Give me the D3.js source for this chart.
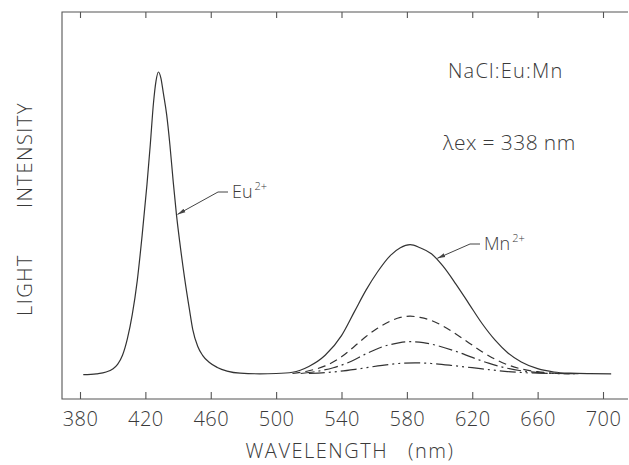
<!DOCTYPE html>
<html>
<head>
<meta charset="utf-8">
<script src="https://cdn.jsdelivr.net/npm/d3@7"></script>
<style>
  html, body { margin: 0; padding: 0; background: #fff; }
  svg text { font-family: "Open Sans", "Liberation Sans", sans-serif; font-weight: 300; fill: #3a3a3a; }
</style>
</head>
<body>
<svg id="chart" width="629" height="465"></svg>
<script>
// Emission spectrum of NaCl:Eu:Mn under 338 nm excitation (relative intensity)
const xTicks = [380, 420, 460, 500, 540, 580, 620, 660, 700];

// Full spectrum: Eu2+ band plus the strongest Mn2+ band
const solidWl = [382, 390, 396, 400, 403, 406, 409, 412, 415, 418, 421, 423, 425, 426.5, 428, 429.5, 431, 433, 435, 437, 439, 441, 444, 447, 449, 452, 455, 459, 464, 470, 478, 490, 500, 510, 520, 530, 540, 548, 555, 562, 570, 576, 582, 588, 595, 602, 610, 618, 626, 634, 642, 650, 660, 670, 680, 692, 705];
const solidI  = [0.1, 0.4, 1.0, 2.0, 3.5, 6.5, 12, 20, 31, 46, 63, 76, 90, 97, 100, 98, 93, 86, 76, 64, 53, 44, 32, 21.5, 15, 9.5, 6.5, 4.2, 2.5, 1.3, 0.6, 0.4, 0.5, 0.9, 2.8, 6.5, 13, 21, 28, 34, 39.5, 42, 43, 42, 40, 36, 30, 23.5, 17, 11.5, 7.2, 4.3, 2.1, 1.0, 0.6, 0.45, 0.4];

// Weaker Mn2+ bands at lower manganese content
const dashWl = [510, 520, 530, 540, 548, 555, 562, 570, 576, 582, 588, 595, 602, 610, 618, 626, 634, 642, 650, 660, 670, 680];
const dashI  = [0.5, 1.4, 3, 6, 9.5, 12.7, 15.4, 17.8, 19, 19.4, 19, 18, 16.2, 13.5, 10.6, 7.7, 5.2, 3.3, 2, 1.1, 0.6, 0.45];

const dashDotWl = [515, 525, 535, 545, 555, 565, 575, 582, 590, 600, 610, 620, 630, 640, 650, 660, 672, 685];
const dashDotI  = [0.5, 1.2, 2.4, 4.3, 7, 9.3, 10.6, 11, 10.7, 9.5, 7.8, 5.8, 3.9, 2.4, 1.4, 0.8, 0.5, 0.45];

const dashDot2Wl = [520, 535, 550, 565, 575, 585, 595, 610, 625, 640, 655, 670, 685];
const dashDot2I  = [0.5, 1.0, 2.0, 3.2, 3.8, 4.0, 3.8, 3.0, 2.1, 1.2, 0.7, 0.5, 0.45];

const svg = d3.select("#chart");
const frame = { left: 62, right: 628, top: 12, bottom: 399 };

const x = d3.scaleLinear().domain([380, 700]).range([80, 603]);
const y = d3.scaleLinear().domain([0, 100]).range([375, 72]);

const ink = "#333";
const font = "'Open Sans', 'Liberation Sans', sans-serif";

// plot frame
svg.append("path")
  .attr("d", `M${frame.right},${frame.top}H${frame.left}V${frame.bottom}H${frame.right}`)
  .attr("fill", "none").attr("stroke", "#555").attr("stroke-width", 1.1);

// bottom axis: inward ticks with labels below
const bottomAxis = d3.axisBottom(x).tickValues(xTicks).tickSizeInner(-7).tickSizeOuter(0).tickPadding(13);
const gb = svg.append("g").attr("transform", `translate(0,${frame.bottom})`).call(bottomAxis);
gb.select(".domain").remove();
gb.selectAll(".tick line").attr("stroke", "#555").attr("stroke-width", 1.1);
gb.selectAll(".tick text").attr("font-size", 20).attr("fill", "#3a3a3a")
  .attr("font-family", font).attr("font-weight", 300).attr("letter-spacing", 0.5);

// top axis: inward ticks only
const topAxis = d3.axisTop(x).tickValues(xTicks).tickSizeInner(-6).tickSizeOuter(0).tickFormat("");
const gt = svg.append("g").attr("transform", `translate(0,${frame.top})`).call(topAxis);
gt.select(".domain").remove();
gt.selectAll(".tick line").attr("stroke", "#555").attr("stroke-width", 1.1);

const line = d3.line().x(d => x(d[0])).y(d => y(d[1])).curve(d3.curveMonotoneX);
const zip = (a, b) => a.map((v, i) => [v, b[i]]);

const series = [
  { wl: solidWl, v: solidI, dash: null },
  { wl: dashWl, v: dashI, dash: "8,5" },
  { wl: dashDotWl, v: dashDotI, dash: "14,4,2,4" },
  { wl: dashDot2Wl, v: dashDot2I, dash: "16,4,2,4,2,4" }
];
series.forEach(s => {
  svg.append("path")
    .attr("d", line(zip(s.wl, s.v)))
    .attr("fill", "none")
    .attr("stroke", ink)
    .attr("stroke-width", 1.2)
    .attr("stroke-dasharray", s.dash);
});

// slender arrow heads for the band labels
svg.append("defs").append("marker")
  .attr("id", "arrow").attr("viewBox", "0 0 10 10")
  .attr("refX", 10).attr("refY", 5)
  .attr("markerWidth", 8).attr("markerHeight", 8)
  .attr("markerUnits", "userSpaceOnUse")
  .attr("orient", "auto")
  .append("path").attr("d", "M0,2.6L10,5L0,7.4Z").attr("fill", "#444");

function label(text, sup, tx, ty, targetWl, targetI, bendDx) {
  const px = x(targetWl), py = y(targetI);
  svg.append("path")
    .attr("d", `M${tx - 4},${ty - 6}H${tx - 4 - bendDx}L${px + 1},${py}`)
    .attr("fill", "none").attr("stroke", "#444").attr("stroke-width", 1)
    .attr("marker-end", "url(#arrow)");
  const t = svg.append("text").attr("x", tx).attr("y", ty).attr("font-size", 18);
  t.append("tspan").text(text);
  t.append("tspan").attr("dy", -8).attr("dx", 2).attr("font-size", 11).text(sup);
}

label("Eu", "2+", 232, 198, 439, 53, 10);
label("Mn", "2+", 484, 250, 598, 38.5, 10);

// sample and excitation annotation
svg.append("text").attr("x", 448).attr("y", 78).attr("font-size", 20)
  .attr("letter-spacing", 1.2).text("NaCl:Eu:Mn");
svg.append("text").attr("x", 443).attr("y", 150).attr("font-size", 21)
  .attr("letter-spacing", 0.4).text("λex = 338 nm");

// axis titles
svg.append("text").attr("x", 350).attr("y", 458).attr("text-anchor", "middle")
  .attr("font-size", 20).attr("letter-spacing", 1.5).attr("xml:space", "preserve")
  .text("WAVELENGTH   (nm)");
svg.append("text").attr("transform", "translate(32,285) rotate(-90)").attr("text-anchor", "middle")
  .attr("font-size", 20).attr("letter-spacing", 1.5).text("LIGHT");
svg.append("text").attr("transform", "translate(32,155) rotate(-90)").attr("text-anchor", "middle")
  .attr("font-size", 20).attr("letter-spacing", 1.5).text("INTENSITY");
</script>
</body>
</html>
